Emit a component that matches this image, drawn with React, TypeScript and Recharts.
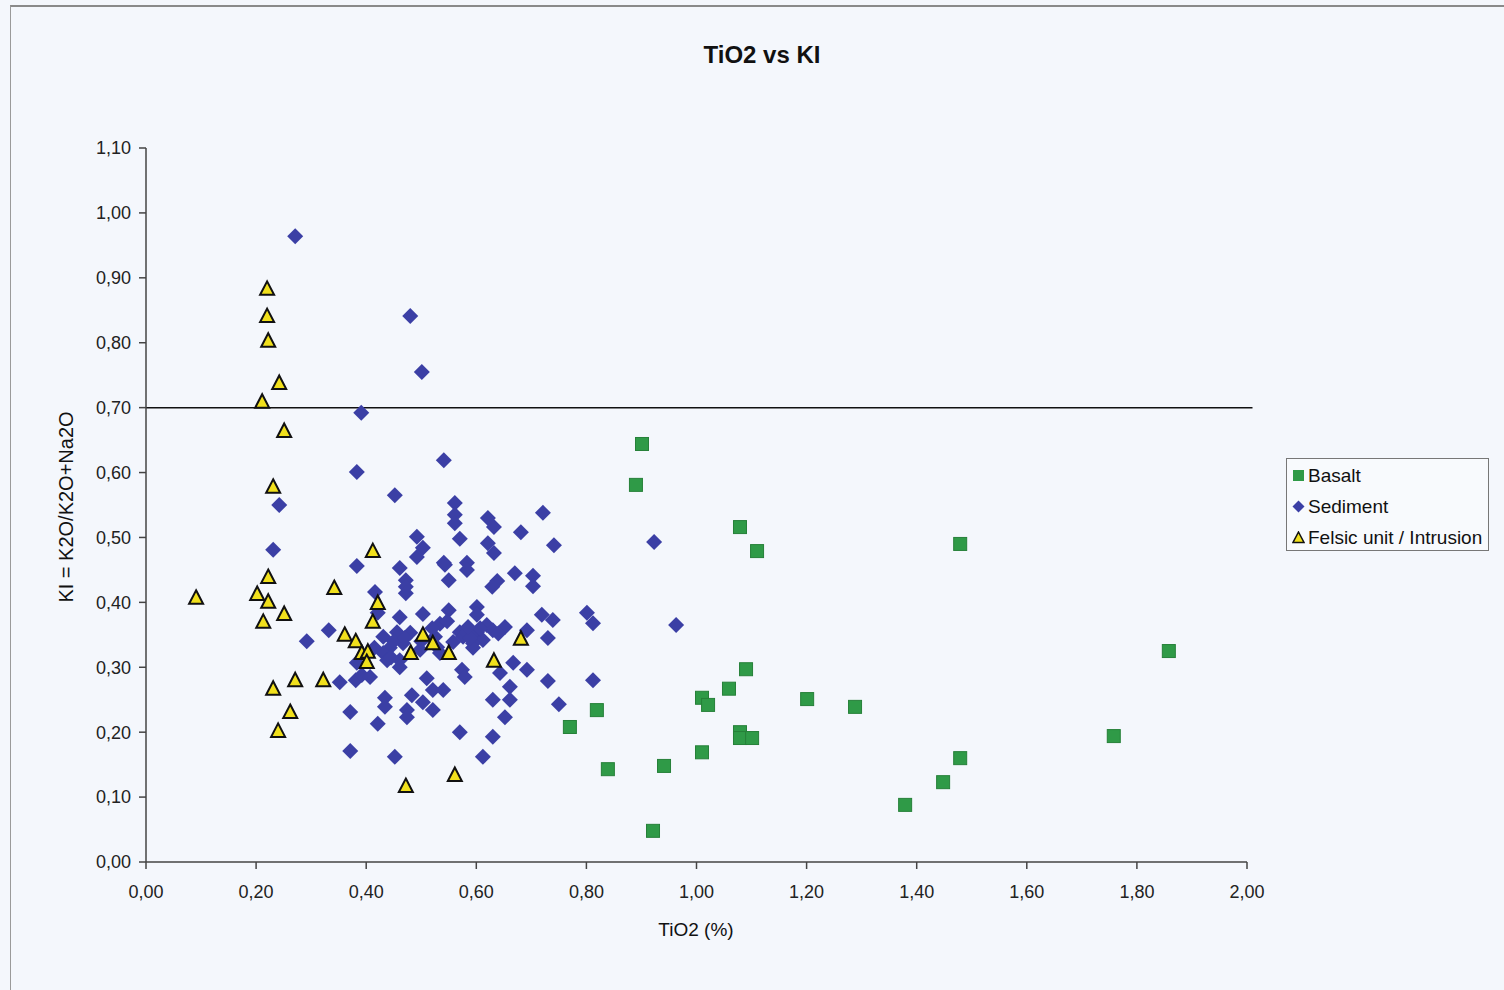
import React from 'react';
import { ScatterChart, Scatter, XAxis, YAxis, ReferenceLine } from 'recharts';

const chartTitle = 'TiO2 vs KI';
const xTitle = 'TiO2 (%)';
const yTitle = 'KI = K2O/K2O+Na2O';
const seriesNames = ['Basalt', 'Sediment', 'Felsic unit / Intrusion'];
const xTicks = [0, 0.2, 0.4, 0.6, 0.8, 1.0, 1.2, 1.4, 1.6, 1.8, 2.0];
const yTicks = [0, 0.1, 0.2, 0.3, 0.4, 0.5, 0.6, 0.7, 0.8, 0.9, 1.0, 1.1];
const kiLimit = 0.7;

// [TiO2, KI]
const basalt: number[][] = [
  [0.901, 0.644], [0.890, 0.581], [1.079, 0.516], [1.110, 0.479], [1.479, 0.490],
  [1.858, 0.325], [1.090, 0.297], [1.059, 0.267], [1.010, 0.253], [1.021, 0.242],
  [1.201, 0.251], [1.288, 0.239], [0.819, 0.234], [0.770, 0.208], [1.079, 0.200],
  [1.079, 0.191], [1.101, 0.191], [1.010, 0.169], [0.839, 0.143], [0.941, 0.148],
  [1.479, 0.160], [1.758, 0.194], [1.448, 0.123], [1.379, 0.088], [0.921, 0.048],
];

const sediment: number[][] = [
  [0.271, 0.964], [0.480, 0.841], [0.501, 0.755], [0.391, 0.692], [0.383, 0.601],
  [0.541, 0.619], [0.452, 0.565], [0.242, 0.550], [0.231, 0.481], [0.383, 0.456],
  [0.923, 0.493], [0.963, 0.365], [0.492, 0.501], [0.503, 0.484], [0.492, 0.470],
  [0.461, 0.453], [0.541, 0.461], [0.472, 0.434], [0.472, 0.424], [0.472, 0.414],
  [0.416, 0.416], [0.550, 0.434], [0.503, 0.382], [0.461, 0.377], [0.421, 0.384],
  [0.550, 0.388], [0.534, 0.367], [0.547, 0.371], [0.570, 0.354], [0.576, 0.347],
  [0.456, 0.354], [0.431, 0.347], [0.480, 0.353], [0.525, 0.347], [0.467, 0.337],
  [0.443, 0.330], [0.431, 0.322], [0.498, 0.327], [0.529, 0.331], [0.534, 0.322],
  [0.558, 0.339], [0.332, 0.357], [0.292, 0.340], [0.561, 0.553], [0.561, 0.535],
  [0.561, 0.522], [0.621, 0.530], [0.632, 0.516], [0.721, 0.538], [0.681, 0.508],
  [0.741, 0.488], [0.570, 0.498], [0.621, 0.491], [0.632, 0.476], [0.583, 0.461],
  [0.583, 0.450], [0.670, 0.445], [0.703, 0.441], [0.703, 0.425], [0.638, 0.433],
  [0.629, 0.424], [0.601, 0.393], [0.601, 0.381], [0.583, 0.354], [0.601, 0.354],
  [0.619, 0.365], [0.630, 0.357], [0.652, 0.362], [0.612, 0.342], [0.594, 0.337],
  [0.594, 0.330], [0.719, 0.381], [0.739, 0.373], [0.692, 0.357], [0.730, 0.345],
  [0.801, 0.384], [0.812, 0.368], [0.352, 0.277], [0.381, 0.280], [0.392, 0.288],
  [0.407, 0.285], [0.438, 0.311], [0.461, 0.311], [0.461, 0.300], [0.383, 0.307],
  [0.510, 0.283], [0.521, 0.265], [0.540, 0.265], [0.434, 0.253], [0.434, 0.239],
  [0.483, 0.257], [0.503, 0.246], [0.521, 0.234], [0.474, 0.234], [0.474, 0.223],
  [0.371, 0.231], [0.421, 0.213], [0.371, 0.171], [0.452, 0.162], [0.667, 0.307],
  [0.643, 0.291], [0.692, 0.296], [0.730, 0.279], [0.812, 0.280], [0.750, 0.243],
  [0.574, 0.296], [0.579, 0.285], [0.630, 0.250], [0.661, 0.270], [0.661, 0.250],
  [0.652, 0.223], [0.570, 0.200], [0.630, 0.193], [0.612, 0.162],
  [0.543, 0.458], [0.589, 0.345], [0.607, 0.360], [0.640, 0.352], [0.585, 0.362],
  [0.500, 0.340], [0.450, 0.340], [0.415, 0.330], [0.445, 0.315], [0.520, 0.360],
  [0.470, 0.345],
];

const felsic: number[][] = [
  [0.220, 0.883], [0.220, 0.841], [0.222, 0.803], [0.242, 0.738], [0.211, 0.709],
  [0.251, 0.664], [0.231, 0.578], [0.412, 0.479], [0.222, 0.439], [0.342, 0.422],
  [0.091, 0.407], [0.202, 0.413], [0.222, 0.401], [0.421, 0.399], [0.213, 0.370],
  [0.251, 0.382], [0.412, 0.370], [0.361, 0.350], [0.381, 0.340], [0.392, 0.322],
  [0.403, 0.324], [0.401, 0.308], [0.503, 0.350], [0.521, 0.337], [0.481, 0.322],
  [0.550, 0.322], [0.681, 0.344], [0.632, 0.310], [0.322, 0.280], [0.271, 0.280],
  [0.231, 0.267], [0.262, 0.231], [0.240, 0.202], [0.561, 0.134], [0.472, 0.117],
];

const toPoints = (arr: number[][]) => arr.map(([x, y]) => ({ x, y }));

const FONT = '"Liberation Sans", Arial, Helvetica, sans-serif';
const BASALT_FILL = '#2f9a47';
const SED_FILL = '#3b3fa5';
const FEL_FILL = '#f1e01c';

const Square = (p: any) => (
  <rect x={p.cx - 6.5} y={p.cy - 6.5} width={13} height={13} fill={BASALT_FILL} stroke="#268039" strokeWidth={1} />
);
const Diamond = (p: any) => (
  <polygon
    points={`${p.cx},${p.cy - 8} ${p.cx + 8},${p.cy} ${p.cx},${p.cy + 8} ${p.cx - 8},${p.cy}`}
    fill={SED_FILL}
  />
);
const Triangle = (p: any) => (
  <polygon
    points={`${p.cx},${p.cy - 7.5} ${p.cx + 7},${p.cy + 6} ${p.cx - 7},${p.cy + 6}`}
    fill={FEL_FILL}
    stroke="#111"
    strokeWidth={2}
    strokeLinejoin="miter"
  />
);

const fmt = (v: number) => v.toFixed(2).replace('.', ',');

const legendIcons = [
  <svg width={13} height={13} key="b"><rect x={1} y={1} width={11} height={11} fill={BASALT_FILL} /></svg>,
  <svg width={13} height={13} key="s"><polygon points="6.5,0.5 12.5,6.5 6.5,12.5 0.5,6.5" fill={SED_FILL} /></svg>,
  <svg width={13} height={13} key="f"><polygon points="6.5,1 12,11.5 1,11.5" fill={FEL_FILL} stroke="#111" strokeWidth={1.5} /></svg>,
];

export default function App() {
  return (
    <div
      style={{
        position: 'absolute',
        left: 0,
        top: 0,
        width: 1504,
        height: 990,
        background: '#f4f7fc',
        overflow: 'hidden',
        fontFamily: FONT,
      }}
    >
      <div
        style={{
          position: 'absolute',
          left: 10,
          top: 5,
          width: 1520,
          height: 1000,
          borderLeft: '1px solid #9a9a9a',
          borderTop: '2px solid #8a8a8a',
        }}
      />
      <div
        style={{
          position: 'absolute',
          left: 0,
          width: 1504,
          top: 40,
          textAlign: 'center',
          fontSize: 24,
          fontWeight: 'bold',
          color: '#111',
          paddingLeft: 20,
          boxSizing: 'border-box',
          lineHeight: '30px',
        }}
      >
        {chartTitle}
      </div>
      <div
        style={{
          position: 'absolute',
          left: 596,
          width: 200,
          top: 918,
          textAlign: 'center',
          fontSize: 19,
          color: '#111',
          lineHeight: '24px',
        }}
      >
        {xTitle}
      </div>
      <div
        style={{
          position: 'absolute',
          left: 66 - 150,
          top: 507 - 12,
          width: 300,
          height: 24,
          textAlign: 'center',
          fontSize: 20,
          color: '#111',
          lineHeight: '24px',
          transform: 'rotate(-90deg)',
          transformOrigin: '150px 12px',
        }}
      >
        {yTitle}
      </div>
      <ScatterChart
        width={1504}
        height={990}
        margin={{ top: 148, right: 257, bottom: 78, left: 56 }}
        style={{ position: 'absolute', left: 0, top: 0 }}
      >
        <XAxis
          type="number"
          dataKey="x"
          domain={[0, 2]}
          ticks={xTicks}
          tickFormatter={fmt}
          height={50}
          tickSize={7}
          tickMargin={16}
          axisLine={{ stroke: '#444', strokeWidth: 1.5 }}
          tickLine={{ stroke: '#444', strokeWidth: 1.5 }}
          tick={{ fill: '#222', fontSize: 18, fontFamily: FONT }}
          interval={0}
        />
        <YAxis
          type="number"
          dataKey="y"
          domain={[0, 1.1]}
          ticks={yTicks}
          tickFormatter={fmt}
          width={90}
          tickSize={7}
          tickMargin={8}
          axisLine={{ stroke: '#444', strokeWidth: 1.5 }}
          tickLine={{ stroke: '#444', strokeWidth: 1.5 }}
          tick={{ fill: '#222', fontSize: 18, fontFamily: FONT }}
          interval={0}
        />
        <ReferenceLine
          segment={[{ x: 0, y: kiLimit }, { x: 2.01, y: kiLimit }]}
          stroke="#111"
          strokeWidth={1.5}
          ifOverflow="visible"
        />
        <Scatter name={seriesNames[0]} data={toPoints(basalt)} shape={Square} isAnimationActive={false} />
        <Scatter name={seriesNames[1]} data={toPoints(sediment)} shape={Diamond} isAnimationActive={false} />
        <Scatter name={seriesNames[2]} data={toPoints(felsic)} shape={Triangle} isAnimationActive={false} />
      </ScatterChart>
      <div
        style={{
          position: 'absolute',
          left: 1286,
          top: 458,
          width: 203,
          height: 93,
          border: '1px solid #777',
          background: '#f8fafd',
          boxSizing: 'border-box',
          padding: '1px 0 0 5px',
        }}
      >
        {seriesNames.map((n, i) => (
          <div
            key={n}
            style={{ display: 'flex', alignItems: 'center', height: 31, fontSize: 19, color: '#111', whiteSpace: 'nowrap' }}
          >
            <span style={{ width: 16, display: 'inline-flex', alignItems: 'center' }}>{legendIcons[i]}</span>
            <span>{n}</span>
          </div>
        ))}
      </div>
    </div>
  );
}
